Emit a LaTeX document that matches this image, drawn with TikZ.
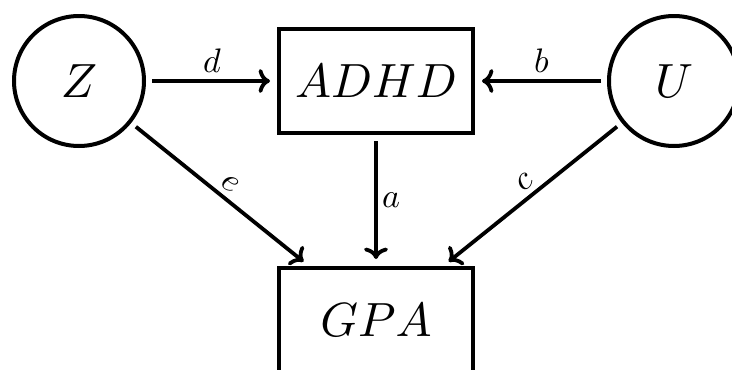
\documentclass[tikz,border=0pt]{standalone}
\usetikzlibrary{arrows.meta}
\newcommand{\BTxt}[1]{\scalebox{4.8}{$#1$}}
\begin{document}
\begin{tikzpicture}[x=1pt,y=-1pt,
  circ/.style={draw, circle, line width=4pt, minimum size=130pt, inner sep=0pt},
  box/.style={draw, rectangle, line width=4pt, minimum width=194pt, minimum height=104pt, inner sep=0pt},
  arr/.style={line width=3.8pt, -{Computer Modern Rightarrow[scale=1.15]}, shorten >=7pt, shorten <=6pt},
  lab/.style={inner sep=0pt, scale=3.4}]
\useasboundingbox (0,0) rectangle (732,370);
\node[circ] (Z) at (79,81) {\BTxt{Z}};
\node[circ] (U) at (674,81) {\BTxt{U}};
\node[box] (ADHD) at (376,81) {\BTxt{ADHD}};
\node[box] (GPA) at (376,320) {\BTxt{GPA}};
\draw[arr] (Z) -- (ADHD);
\draw[arr] (U) -- (ADHD);
\draw[arr] (ADHD) -- (GPA);
\draw[arr] (Z) -- (GPA);
\draw[arr] (U) -- (GPA);
\node[lab] (ld) at (212,61) {$d$};
\node[lab] (lb) at (541.5,61) {$b$};
\node[lab] (la) at (391,200) {$a$};
\node[lab, rotate=-38.7] (le) at (230,184) {$e$};
\node[lab, rotate=38.7] (lc) at (525,182) {$c$};
\end{tikzpicture}
\end{document}
